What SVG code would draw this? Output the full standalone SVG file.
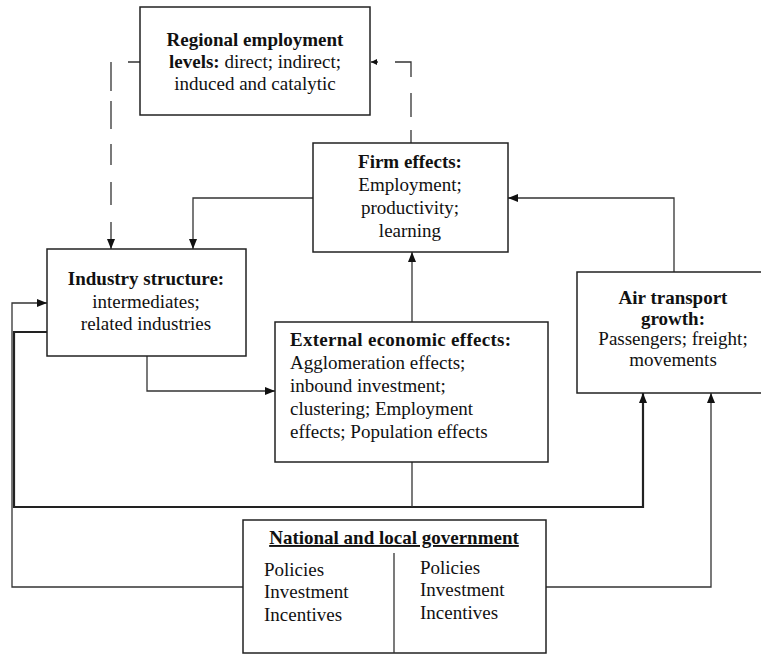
<svg xmlns="http://www.w3.org/2000/svg" width="761" height="655" viewBox="0 0 761 655">
<style>
.box{fill:#fff;stroke:#222;stroke-width:1.5}
.ln{fill:none;stroke:#333;stroke-width:1.3}
.thick{fill:none;stroke:#222;stroke-width:2.2}
.dash{fill:none;stroke:#333;stroke-width:1.3}
text{font-family:"Liberation Serif","Times New Roman",serif;font-size:19px;fill:#111}
.c{text-anchor:middle}
.b{font-weight:bold}
</style>
<defs>
<marker id="arr" markerUnits="userSpaceOnUse" viewBox="0 0 10 8" refX="10" refY="4" markerWidth="10" markerHeight="8" orient="auto">
<path d="M0,0 L10,4 L0,8 z" fill="#111"/>
</marker>
<marker id="arrs" markerUnits="userSpaceOnUse" viewBox="0 0 6 6" refX="6" refY="3" markerWidth="6" markerHeight="6" orient="auto">
<path d="M0,0 L6,3 L0,6 z" fill="#111"/>
</marker>
</defs>
<g id="connectors">
<path class="dash" d="M140,62 H111 V249" stroke-dasharray="12 17 29 10 28 15 21 17 23 17 40" marker-end="url(#arr)"/>
<path class="dash" d="M411,143 V62 H371" stroke-dasharray="13 13 24 16 31 17 10" marker-end="url(#arrs)"/>
<path class="ln" d="M313,198 H193 V249" marker-end="url(#arr)"/>
<path class="ln" d="M674,272 V198 H508" marker-end="url(#arr)"/>
<path class="ln" d="M412,322 V252" marker-end="url(#arr)"/>
<path class="ln" d="M147,356 V391 H275" marker-end="url(#arr)"/>
<path class="ln" d="M243,587 H12 V303 H47" marker-end="url(#arr)"/>
<path class="thick" d="M47,332 H14 V507 H643 V393" marker-end="url(#arr)"/>
<path class="ln" d="M412,462 V507"/>
<path class="ln" d="M546,587 H711 V393" marker-end="url(#arr)"/>
</g>
<g id="regional">
<rect class="box" x="140" y="7" width="230" height="108"/>
<text class="c b" x="255" y="46">Regional employment</text>
<text class="c" x="255" y="68"><tspan class="b">levels:</tspan> direct; indirect;</text>
<text class="c" x="255" y="90">induced and catalytic</text>
</g>
<g id="firm">
<rect class="box" x="313" y="143" width="195" height="109"/>
<text class="c b" x="410" y="168">Firm effects:</text>
<text class="c" x="410" y="191">Employment;</text>
<text class="c" x="410" y="214">productivity;</text>
<text class="c" x="410" y="237">learning</text>
</g>
<g id="industry">
<rect class="box" x="47" y="249" width="199" height="107"/>
<text class="c b" x="146" y="285">Industry structure:</text>
<text class="c" x="146" y="308">intermediates;</text>
<text class="c" x="146" y="330">related industries</text>
</g>
<g id="external">
<rect class="box" x="275" y="322" width="273" height="140"/>
<text class="b" x="290" y="346" textLength="221" lengthAdjust="spacing">External economic effects:</text>
<text x="290" y="369">Agglomeration effects;</text>
<text x="290" y="392">inbound investment;</text>
<text x="290" y="415">clustering; Employment</text>
<text x="290" y="438">effects; Population effects</text>
</g>
<g id="air">
<rect class="box" x="577" y="272" width="190" height="121"/>
<text class="c b" x="673" y="304">Air transport</text>
<text class="c b" x="673" y="325">growth:</text>
<text class="c" x="673" y="345">Passengers; freight;</text>
<text class="c" x="673" y="366">movements</text>
</g>
<g id="government">
<rect class="box" x="243" y="520" width="303" height="133"/>
<line class="ln" x1="394" y1="553" x2="394" y2="653"/>
<text class="c b" x="394" y="544" text-decoration="underline">National and local government</text>
<text x="264" y="576">Policies</text>
<text x="264" y="598">Investment</text>
<text x="264" y="621">Incentives</text>
<text x="420" y="574">Policies</text>
<text x="420" y="596">Investment</text>
<text x="420" y="619">Incentives</text>
</g>
</svg>
